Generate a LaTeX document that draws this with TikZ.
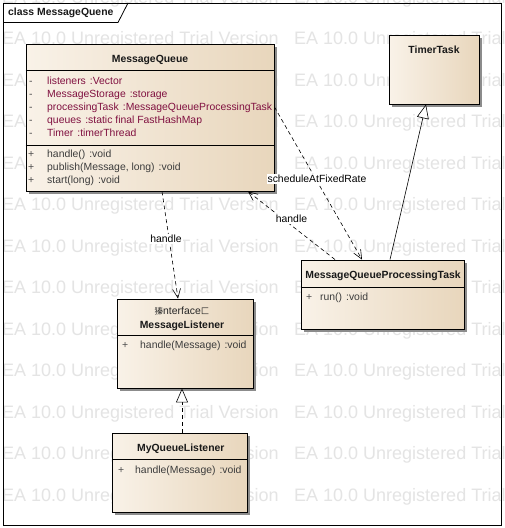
\documentclass[tikz,border=0pt]{standalone}
\usepackage{fontspec}
\setmainfont{Liberation Sans}
\newfontfamily\cjk{Noto Sans CJK SC}
\usetikzlibrary{arrows.meta,shadows}
\definecolor{boxL}{RGB}{249,242,232}
\definecolor{boxR}{RGB}{232,214,188}
\definecolor{attrc}{RGB}{128,16,64}
\definecolor{opc}{RGB}{60,60,60}
\definecolor{wm}{RGB}{228,228,228}
\tikzset{
  classbox/.style={draw=black, line width=0.9pt, inner sep=0pt, left color=boxL, right color=boxR,
    drop shadow={shadow xshift=2.5pt, shadow yshift=-2.5pt, fill=black!45, opacity=1}},
  cname/.style={font=\fontsize{10.4}{12}\selectfont\bfseries, inner sep=0pt, text=black!90, text height=7.5pt, text depth=2pt},
  member/.style={font=\fontsize{10.4}{12}\selectfont, inner sep=0pt, anchor=west, text height=7.5pt, text depth=2pt},
  vis/.style={member, text=black!70},
  attr/.style={member, text=attrc},
  oper/.style={member, text=opc},
  sep/.style={draw=black, line width=0.7pt},
  dep/.style={draw=black, line width=0.6pt, dash pattern=on 4pt off 3pt, -{Straight Barb[length=9pt,width=8pt]}},
  gen/.style={draw=black, line width=0.6pt, -{Triangle[open,length=14pt,width=12pt,fill=white]}},
  real/.style={gen, dash pattern=on 4pt off 3pt},
  lbl/.style={font=\fontsize{10.4}{12}\selectfont, fill=white, inner sep=1pt},
  wmark/.style={font=\fontsize{18}{20}\selectfont, text=wm, anchor=west, inner sep=0pt},
}
\begin{document}
\begin{tikzpicture}[x=1pt,y=-1pt]
\useasboundingbox (0,0) rectangle (504,528);
\fill[white] (0,0) rectangle (504,528);
\begin{scope}
\clip (0,0) rectangle (504,528);
\foreach \k in {0,...,12}{
  \node[wmark] (wa\k) at (2,{-1.5+41.5*\k}) {EA 10.0 Unregistered Trial Version};
  \node[wmark] (wb\k) at (294,{-1.5+41.5*\k}) {EA 10.0 Unregistered Trial Version};
}
\end{scope}
% frame
\draw[line width=0.8pt] (3,3) rectangle (501,525);
\draw[line width=0.8pt] (3,22.5) -- (118,22.5) -- (128,3);
\node[cname, anchor=west] (title) at (8,13) {class MessageQuene};

% MessageQueue
\node[classbox, minimum width=248pt, minimum height=147pt] (mq) at (150,117.5) {};
\draw[sep] ([yshift=-27pt]mq.north west) -- ([yshift=-27pt]mq.north east);
\draw[sep] ([yshift=-102pt]mq.north west) -- ([yshift=-102pt]mq.north east);
\node[cname] (mqn) at (150,60) {MessageQueue};
\node[vis] (mqv1) at (29,82) {-};
\node[vis] (mqv2) at (29,95) {-};
\node[vis] (mqv3) at (29,108) {-};
\node[vis] (mqv4) at (29,121) {-};
\node[vis] (mqv5) at (29,134) {-};
\node[attr] (mqa1) at (47,82) {listeners\hspace{4pt}:Vector};
\node[attr] (mqa2) at (47,95) {MessageStorage\hspace{4pt}:storage};
\node[attr] (mqa3) at (47,108) {processingTask\hspace{4pt}:MessageQueueProcessingTask};
\node[attr] (mqa4) at (47,121) {queues\hspace{4pt}:static final FastHashMap};
\node[attr] (mqa5) at (47,134) {Timer\hspace{4pt}:timerThread};
\node[vis] (mqp1) at (28,155) {+};
\node[vis] (mqp2) at (28,168) {+};
\node[vis] (mqp3) at (28,181) {+};
\node[oper] (mqo1) at (47,155) {handle()\hspace{4pt}:void};
\node[oper] (mqo2) at (47,168) {publish(Message, long)\hspace{4pt}:void};
\node[oper] (mqo3) at (47,181) {start(long)\hspace{4pt}:void};

% TimerTask
\node[classbox, minimum width=90pt, minimum height=69pt] (tt) at (434,69.5) {};
\node[cname] (ttn) at (434,50.7) {TimerTask};

% MessageQueueProcessingTask
\node[classbox, minimum width=163pt, minimum height=69pt] (mqpt) at (382.5,294.5) {};
\draw[sep] ([yshift=-28pt]mqpt.north west) -- ([yshift=-28pt]mqpt.north east);
\node[cname] (mqptn) at (383,276) {MessageQueueProcessingTask};
\node[vis] (mqptp) at (306,298) {+};
\node[oper] (mqpto) at (320,298) {run()\hspace{4pt}:void};

% MessageListener
\node[classbox, minimum width=136pt, minimum height=89pt] (ml) at (185,343.5) {};
\draw[sep] ([yshift=-37pt]ml.north west) -- ([yshift=-37pt]ml.north east);
\node[member, anchor=center, text=black!85] (mls) at (182,312) {{\cjk\fontsize{8.5}{10}\selectfont 獉}nterface{\cjk\fontsize{8.5}{10}\selectfont 匚}};
\node[cname] (mln) at (182,325.7) {MessageListener};
\node[vis] (mlp) at (122,345.7) {+};
\node[oper] (mlo) at (140,345.7) {handle(Message)\hspace{4pt}:void};

% MyQueueListener
\node[classbox, minimum width=135pt, minimum height=79pt] (myq) at (179.5,472.5) {};
\draw[sep] ([yshift=-27pt]myq.north west) -- ([yshift=-27pt]myq.north east);
\node[cname] (myqn) at (180.8,449) {MyQueueListener};
\node[vis] (myqp) at (118,470.7) {+};
\node[oper] (myqo) at (135,470.7) {handle(Message)\hspace{4pt}:void};

% connectors
\draw[dep] ([xshift=12pt]mq.south) -- ([xshift=-7pt]ml.north);
\node[lbl] (l1) at (166,239) {handle};
\draw[dep] ([xshift=-47.5pt]mqpt.north) -- ([xshift=98pt]mq.south);
\node[lbl] (l2) at (291.5,219) {handle};
\draw[dep] ([yshift=10.5pt]mq.east) -- ([xshift=-20.5pt]mqpt.north);
\node[lbl] (l3) at (317,179) {scheduleAtFixedRate};
\draw[gen] ([xshift=7.5pt]mqpt.north) -- ([xshift=-8pt]tt.south);
\draw[real] ([xshift=2.5pt]myq.north) -- ([xshift=-3pt]ml.south);
\end{tikzpicture}
\end{document}
